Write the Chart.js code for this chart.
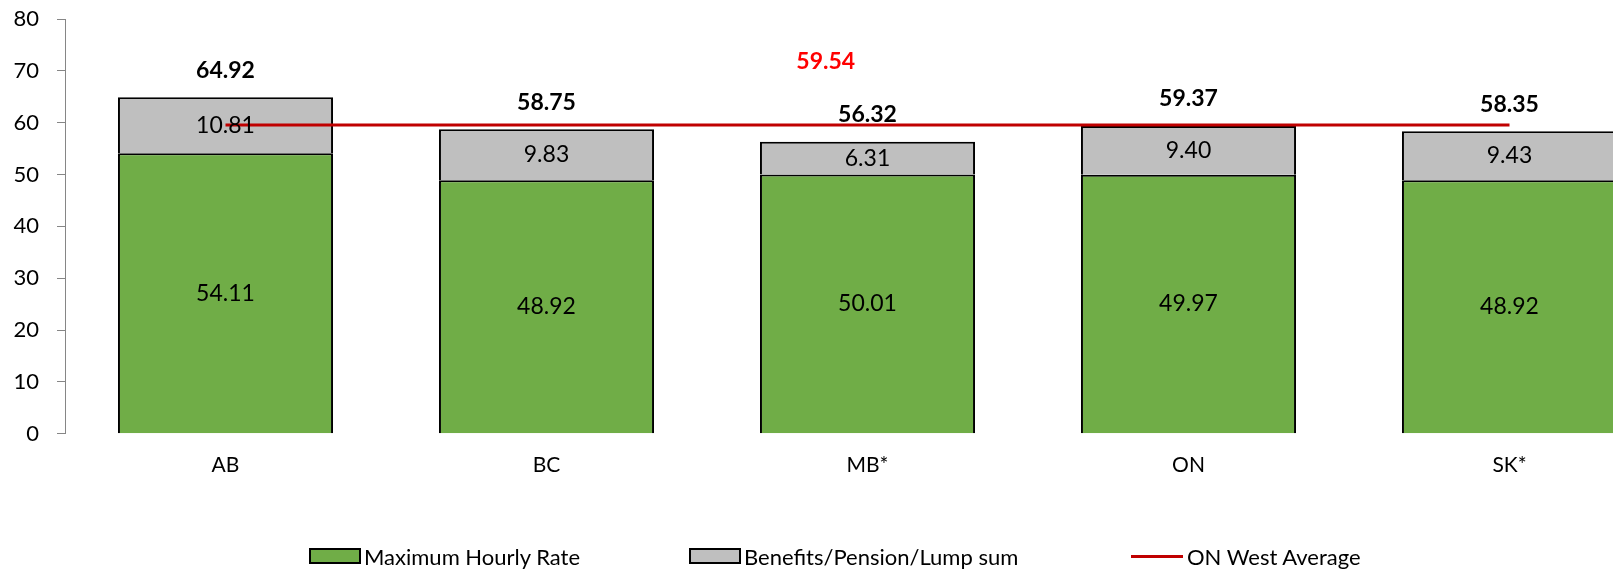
<!DOCTYPE html>
<html>
<head>
<meta charset="utf-8">
<script src="https://cdn.jsdelivr.net/npm/chart.js@4.4.1/dist/chart.umd.min.js"></script>
<style>
  html, body { margin: 0; padding: 0; background: #fff; overflow: hidden; }
  #wrap { position: relative; width: 1700px; height: 571px; }
  #legend { position: absolute; left: 0; top: 543px; width: 1613px; height: 26px; font-family: Lato, "Open Sans", sans-serif; font-size: 22px; color: #000; }
  .item { position: absolute; top: 0; height: 26px; display: flex; align-items: center; }
  .box { width: 48px; height: 12px; border: 2px solid #000; margin-right: 3px; }
  .line { width: 52px; height: 3px; background: #C00000; margin-right: 4px; }
</style>
</head>
<body>
<div id="wrap">
  <canvas id="chart" width="1700" height="571"></canvas>
  <div id="legend"></div>
</div>
<script>
// Dados do gráfico
const provincias = ['AB', 'BC', 'MB*', 'ON', 'SK*'];
const taxaHoraria = [54.11, 48.92, 50.01, 49.97, 48.92];
const beneficios = [10.81, 9.83, 6.31, 9.40, 9.43];
const mediaOnWest = [59.54, 59.54, 59.54, 59.54, 59.54];
const yTicks = [0, 10, 20, 30, 40, 50, 60, 70, 80];
const nomesSeries = ['Maximum Hourly Rate', 'Benefits/Pension/Lump sum', 'ON West Average'];

// onde fica o rótulo vermelho da média (índice da categoria, valor)
const rotuloMediaEm = [1.87, 71.7];

const fonte = 'Lato, "Open Sans", sans-serif';

// Plugin simples para escrever os valores nas barras
const rotulosPlugin = {
  id: 'rotulos',
  afterDatasetsDraw(chart) {
    const ctx = chart.ctx;
    ctx.save();
    ctx.textAlign = 'center';
    ctx.textBaseline = 'middle';
    ctx.fillStyle = '#000';
    ctx.font = '23px ' + fonte;
    [0, 1].forEach(i => {
      chart.getDatasetMeta(i).data.forEach((bar, j) => {
        const v = chart.data.datasets[i].data[j];
        ctx.fillText(v.toFixed(2), bar.x, (bar.y + bar.base) / 2);
      });
    });
    // totais em negrito acima das barras
    ctx.font = 'bold 23px ' + fonte;
    const topo = chart.getDatasetMeta(1).data;
    topo.forEach((bar, j) => {
      const total = taxaHoraria[j] + beneficios[j];
      ctx.fillText(total.toFixed(2), bar.x, bar.y - 27);
    });
    // rótulo da média em vermelho
    ctx.fillStyle = '#FF0000';
    const xs = chart.scales.x, ys = chart.scales.y;
    const xPos = xs.getPixelForValue(rotuloMediaEm[0]);
    ctx.fillText(mediaOnWest[0].toFixed(2), xPos, ys.getPixelForValue(rotuloMediaEm[1]));
    ctx.restore();
  }
};

const ctx = document.getElementById('chart').getContext('2d');
new Chart(ctx, {
  type: 'bar',
  data: {
    labels: provincias,
    datasets: [
      {
        label: nomesSeries[0],
        data: taxaHoraria,
        backgroundColor: '#70AD47',
        borderColor: '#000',
        borderWidth: 2,
        stack: 'barras',
        order: 1,
        categoryPercentage: 1,
        barPercentage: 0.67
      },
      {
        label: nomesSeries[1],
        data: beneficios,
        backgroundColor: '#BFBFBF',
        borderColor: '#000',
        borderWidth: 2,
        stack: 'barras',
        order: 1,
        categoryPercentage: 1,
        barPercentage: 0.67
      },
      {
        type: 'line',
        label: nomesSeries[2],
        data: mediaOnWest,
        borderColor: '#C00000',
        borderWidth: 3,
        pointRadius: 0,
        fill: false,
        stack: 'media',
        order: 0
      }
    ]
  },
  options: {
    responsive: false,
    animation: false,
    layout: { autoPadding: false, padding: { top: 19, right: 30, bottom: 74, left: 0 } },
    scales: {
      x: {
        stacked: true,
        grid: { display: false, drawTicks: false },
        border: { display: false },
        ticks: { color: '#000', font: { family: fonte, size: 21 }, padding: 19 }
      },
      y: {
        stacked: true,
        min: 0,
        max: 80,
        afterBuildTicks: axis => { axis.ticks = yTicks.map(v => ({ value: v })); },
        // largura fixa do eixo e sem folga extra em cima/baixo
        afterFit: axis => { axis.width = 65; axis.paddingTop = 0; axis.paddingBottom = 0; },
        grid: { drawOnChartArea: false, drawTicks: true, tickLength: 8, color: '#868686' },
        border: { display: true, color: '#868686', width: 1 },
        ticks: { color: '#000', font: { family: fonte, size: 22 }, padding: 18 }
      }
    },
    plugins: {
      legend: { display: false },
      tooltip: { enabled: false }
    }
  },
  plugins: [rotulosPlugin]
});

// legenda em HTML (posições como no original)
const legenda = document.getElementById('legend');
const itens = [
  { tipo: 'box', cor: '#70AD47', left: 309 },
  { tipo: 'box', cor: '#BFBFBF', left: 689 },
  { tipo: 'line', cor: '#C00000', left: 1131 }
];
itens.forEach((it, i) => {
  const el = document.createElement('div');
  el.className = 'item';
  el.style.left = it.left + 'px';
  const marca = document.createElement('span');
  marca.className = it.tipo;
  marca.style.background = it.cor;
  const txt = document.createElement('span');
  txt.textContent = nomesSeries[i];
  el.appendChild(marca);
  el.appendChild(txt);
  legenda.appendChild(el);
});
</script>
</body>
</html>
